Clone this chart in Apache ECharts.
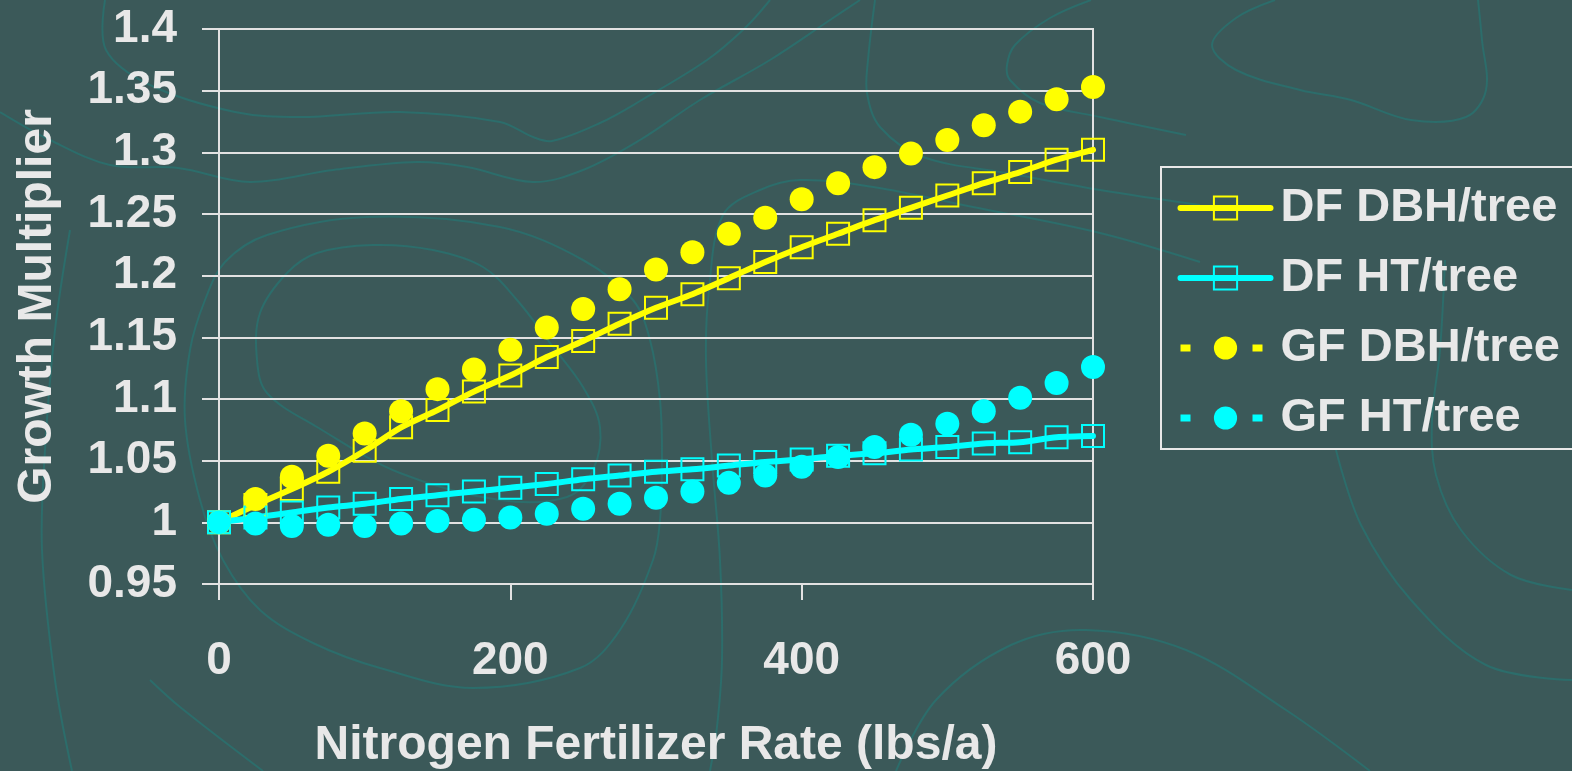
<!DOCTYPE html>
<html>
<head>
<meta charset="utf-8">
<title>Growth Multiplier vs Nitrogen Fertilizer Rate</title>
<script src="https://cdn.jsdelivr.net/npm/echarts@6/dist/echarts.min.js"></script>
<style>
  html, body { margin: 0; padding: 0; background: #3b5959; }
  #chart { width: 1572px; height: 771px; }
</style>
</head>
<body>
<div id="chart"></div>
<script>
// Nitrogen fertilizer rate (lbs/a)
const rates = [0, 25, 50, 75, 100, 125, 150, 175, 200, 225, 250, 275, 300,
               325, 350, 375, 400, 425, 450, 475, 500, 525, 550, 575, 600];

// Growth multipliers per tree
const dfDbh = [1.000, 1.014, 1.027, 1.041, 1.058, 1.077, 1.091, 1.106, 1.119, 1.134, 1.147, 1.161, 1.174,
               1.185, 1.198, 1.211, 1.223, 1.234, 1.245, 1.255, 1.265, 1.275, 1.284, 1.294, 1.302];
const dfHt  = [1.000, 1.004, 1.008, 1.012, 1.015, 1.019, 1.022, 1.025, 1.028, 1.031, 1.035, 1.038, 1.041,
               1.043, 1.046, 1.049, 1.051, 1.054, 1.056, 1.059, 1.061, 1.064, 1.065, 1.069, 1.070];
const gfDbh = [1.000, 1.019, 1.037, 1.054, 1.072, 1.090, 1.108, 1.124, 1.140, 1.158, 1.173, 1.189, 1.205,
               1.219, 1.234, 1.247, 1.262, 1.275, 1.288, 1.299, 1.310, 1.322, 1.333, 1.343, 1.353];
const gfHt  = [1.000, 0.999, 0.997, 0.998, 0.997, 0.999, 1.001, 1.002, 1.004, 1.007, 1.011, 1.015, 1.020,
               1.025, 1.032, 1.038, 1.045, 1.053, 1.061, 1.071, 1.080, 1.090, 1.101, 1.113, 1.126];

const seriesNames = ['DF DBH/tree', 'DF HT/tree', 'GF DBH/tree', 'GF HT/tree'];

const YELLOW = '#ffff00';
const CYAN = '#00ffff';
const INK = '#e8e8e8';
const RULE = '#e2e2e2';
const BG = '#3b5959';
const CONTOUR = '#2c6d6b';
const FONT = '"Liberation Sans", Arial, Helvetica, sans-serif';

// Decorative topographic contour lines of the slide background (pixel paths)
const openContours = [
  [[105,0],[106,50],[150,85],[235,112],[300,117],[400,112],[500,122],[533,137],[552,141],[600,123],[640,101],[707,60],[745,28],[770,0]],
  [[0,112],[50,140],[110,165],[178,168],[250,182],[333,170],[417,162],[467,167],[533,182],[583,170],[640,140],[700,100],[770,60],[830,20],[860,0]],
  [[70,230],[55,330],[45,450],[42,550],[55,680],[72,771]],
  [[150,680],[180,707],[263,771]],
  [[710,771],[717,727],[722,660],[720,560],[712,460],[706,360],[709,290],[723,215],[760,190],[800,180],[873,187],[973,207],[1100,233],[1200,262]],
  [[875,0],[868,60],[867,93],[880,127],[923,157],[1007,173],[1100,190],[1200,205]],
  [[1091,0],[1050,18],[1015,45],[1007,65],[1010,80],[1040,103],[1100,117],[1186,135]],
  [[1275,0],[1236,18],[1212,45],[1236,70],[1300,90],[1351,100],[1411,120],[1466,117],[1486,90],[1482,40],[1478,0]],
  [[896,771],[936,700],[1011,645],[1086,630],[1186,650],[1286,710],[1370,771]],
  [[1572,590],[1511,575],[1461,530],[1436,475],[1432,420],[1440,350],[1445,260]],
  [[1572,680],[1486,665],[1411,600],[1361,525],[1336,450]]
];
const closedContours = [
  [[373,245],[433,250],[483,267],[517,300],[550,343],[583,387],[600,427],[593,470],[567,497],[500,500],[400,473],[317,427],[267,393],[257,360],[260,313],[287,273],[317,253]],
  [[367,217],[500,227],[583,260],[633,300],[650,340],[660,400],[662,460],[660,520],[653,560],[620,630],[580,668],[473,688],[380,668],[313,643],[260,610],[223,560],[200,500],[185,420],[190,350],[205,300],[225,262],[267,235]]
];

const contourGraphics = [
  ...openContours.map(points => ({
    type: 'polyline', silent: true, z: -10,
    shape: { points, smooth: 0.35 },
    style: { stroke: CONTOUR, lineWidth: 2, fill: null }
  })),
  ...closedContours.map(points => ({
    type: 'polygon', silent: true, z: -10,
    shape: { points, smooth: 0.35 },
    style: { stroke: CONTOUR, lineWidth: 2, fill: 'none' }
  }))
];

const pairs = vals => rates.map((r, i) => [r, vals[i]]);

const squareSeries = (name, vals, color) => ({
  name, type: 'line', data: pairs(vals),
  symbol: 'rect', symbolSize: 22,
  itemStyle: { color: 'transparent', borderColor: color, borderWidth: 2 },
  lineStyle: { color, width: 6, cap: 'round', join: 'round' },
  smooth: 0.25,
  emphasis: { disabled: true },
  z: 2
});

const dotSeries = (name, vals, color) => ({
  name, type: 'line', data: pairs(vals),
  symbol: 'circle', symbolSize: 24,
  itemStyle: { color },
  lineStyle: { color, width: 6, opacity: 0 },
  emphasis: { disabled: true },
  z: 3
});

const chart = echarts.init(document.getElementById('chart'), null, { renderer: 'canvas' });

chart.setOption({
  backgroundColor: BG,
  animation: false,
  textStyle: { fontFamily: FONT },
  graphic: contourGraphics,
  grid: {
    left: 219, right: 479, top: 29, bottom: 187,
    show: true, borderColor: RULE, borderWidth: 2,
    outerBoundsMode: 'none'
  },
  xAxis: {
    type: 'value', min: 0, max: 600, interval: 200,
    axisLine: { show: true, lineStyle: { color: RULE, width: 2 } },
    axisTick: { show: true, length: 16, lineStyle: { color: RULE, width: 2 } },
    splitLine: { show: false },
    axisLabel: { color: INK, fontSize: 46, fontWeight: 'bold', fontFamily: FONT, margin: 54 },
    name: 'Nitrogen Fertilizer Rate (lbs/a)',
    nameLocation: 'middle', nameGap: 138,
    nameTextStyle: { color: INK, fontSize: 48, fontWeight: 'bold', fontFamily: FONT }
  },
  yAxis: {
    type: 'value', min: 0.95, max: 1.4, interval: 0.05,
    axisLine: { show: true, lineStyle: { color: RULE, width: 2 } },
    axisTick: { show: true, length: 17, lineStyle: { color: RULE, width: 2 } },
    splitLine: { show: true, lineStyle: { color: RULE, width: 2 } },
    axisLabel: { color: INK, fontSize: 46, fontWeight: 'bold', fontFamily: FONT, margin: 42 },
    name: 'Growth Multiplier',
    nameLocation: 'middle', nameGap: 157,
    nameTextStyle: { color: INK, fontSize: 48, fontWeight: 'bold', fontFamily: FONT }
  },
  legend: {
    orient: 'vertical',
    left: 1161, top: 167,
    padding: [16, 40, 6, 16],
    itemWidth: 90, itemHeight: 29, itemGap: 20,
    borderColor: INK, borderWidth: 2,
    selectedMode: false,
    textStyle: { color: INK, fontSize: 47, fontWeight: 'bold', fontFamily: FONT, lineHeight: 50, padding: [0, 0, 0, 5] },
    data: [
      { name: seriesNames[0], lineStyle: { color: YELLOW, width: 6, cap: 'round', opacity: 1 } },
      { name: seriesNames[1], lineStyle: { color: CYAN, width: 6, cap: 'round', opacity: 1 } },
      { name: seriesNames[2], lineStyle: { color: YELLOW, width: 7, type: [10, 26], cap: 'butt', opacity: 1 } },
      { name: seriesNames[3], lineStyle: { color: CYAN, width: 7, type: [10, 26], cap: 'butt', opacity: 1 } }
    ]
  },
  series: [
    squareSeries(seriesNames[0], dfDbh, YELLOW),
    squareSeries(seriesNames[1], dfHt, CYAN),
    dotSeries(seriesNames[2], gfDbh, YELLOW),
    dotSeries(seriesNames[3], gfHt, CYAN)
  ]
});
</script>
</body>
</html>
